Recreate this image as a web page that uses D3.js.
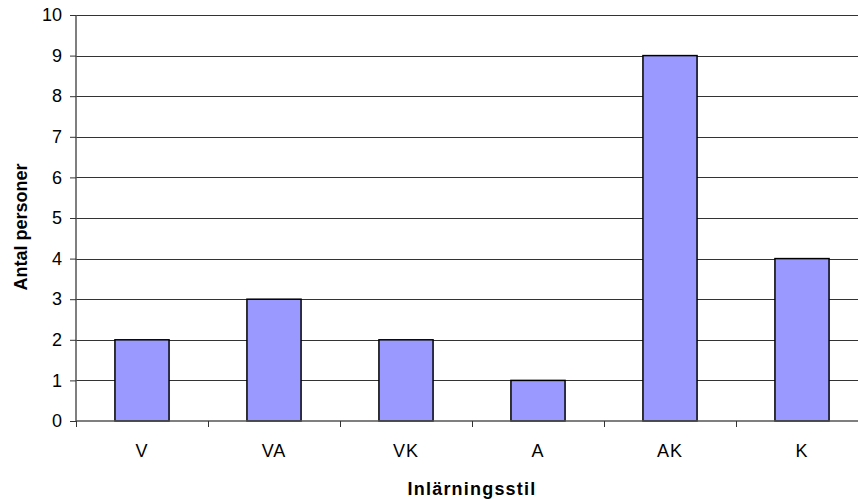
<!DOCTYPE html>
<html>
<head>
<meta charset="utf-8">
<script src="https://cdn.jsdelivr.net/npm/d3@7"></script>
<style>
body{margin:0;background:#fff;}
svg{display:block;font-family:Arial,"Liberation Sans",sans-serif;}
</style>
</head>
<body>
<svg id="chart" width="858" height="499"></svg>
<script>
let categories=["V","VA","VK","A","AK","K"];
let values=[2,3,2,1,9,4];
let yTicks=[0,1,2,3,4,5,6,7,8,9,10];

let svg=d3.select("#chart");
let plotLeft=76, plotRight=868, plotTop=15, plotBottom=421;

let x=d3.scaleBand().domain(categories).range([plotLeft,plotRight]).paddingInner(0).paddingOuter(0);
let y=d3.scaleLinear().domain([0,10]).range([plotBottom,plotTop]);

// gridlines
svg.append("g")
    .selectAll("line")
    .data(yTicks.filter(d=>d>0))
    .enter()
    .append("line")
    .attr("x1",plotLeft).attr("x2",plotRight)
    .attr("y1",d=>Math.round(y(d))+0.5).attr("y2",d=>Math.round(y(d))+0.5)
    .attr("stroke","#333").attr("stroke-width",1);

// bars
let bw=x.bandwidth()*0.41;
svg.append("g")
    .selectAll("rect")
    .data(values)
    .enter()
    .append("rect")
    .attr("x",(d,i)=>x(categories[i])+x.bandwidth()/2-bw/2)
    .attr("width",bw)
    .attr("y",d=>y(d))
    .attr("height",d=>y(0)-y(d))
    .attr("fill","#9999ff")
    .attr("stroke","#000")
    .attr("stroke-width",1.5);

// y axis
let yAxis=svg.append("g").attr("transform","translate("+plotLeft+",0)")
    .call(d3.axisLeft(y).tickValues(yTicks).tickSize(6).tickPadding(8).tickFormat(d3.format("d")));
yAxis.select(".domain").attr("stroke","#555").attr("stroke-width",1.5).attr("d","M0,"+plotTop+"V"+plotBottom);
yAxis.selectAll(".tick line").attr("stroke","#333");
yAxis.selectAll("text").attr("font-size","18px").attr("fill","#000").attr("font-family","Arial,'Liberation Sans',sans-serif");

// x axis
let xAxis=svg.append("g").attr("transform","translate(0,"+plotBottom+")")
    .call(d3.axisBottom(x).tickSize(0).tickPadding(23));
xAxis.select(".domain").attr("stroke","#555").attr("stroke-width",1.5).attr("d","M"+plotLeft+",0H"+plotRight);
xAxis.selectAll("text").attr("font-size","18px").attr("letter-spacing","1px").attr("fill","#000").attr("font-family","Arial,'Liberation Sans',sans-serif");

// category separator ticks
svg.append("g")
    .selectAll("line")
    .data(categories)
    .enter()
    .append("line")
    .attr("x1",d=>x(d)+0.5).attr("x2",d=>x(d)+0.5)
    .attr("y1",plotBottom).attr("y2",plotBottom+6)
    .attr("stroke","#333");

// titles
svg.append("text")
    .attr("x",472).attr("y",495)
    .attr("text-anchor","middle")
    .attr("font-size","18px").attr("font-weight","bold").attr("letter-spacing","1.2px")
    .text("Inlärningsstil");

svg.append("text")
    .attr("transform","translate(27,227) rotate(-90)")
    .attr("text-anchor","middle")
    .attr("font-size","18px").attr("font-weight","bold")
    .text("Antal personer");
</script>
</body>
</html>
